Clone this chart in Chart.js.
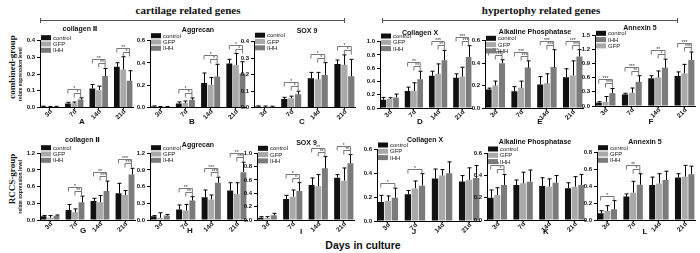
<!DOCTYPE html>
<html>
<head>
<meta charset="utf-8">
<script src="https://cdn.jsdelivr.net/npm/chart.js@4.4.0/dist/chart.umd.min.js"></script>
<style>
    body { margin: 0; background: #fff; }
    #wrap { position: relative; width: 700px; height: 253px; overflow: hidden; background: #fff; }
    .box { position: absolute; }
    .head { position: absolute; top: 4px; line-height: 12px; font-family: "Liberation Serif", serif; font-weight: bold; font-size: 11px; white-space: nowrap; transform: translateX(-50%); color: #111; }
    .rule { position: absolute; top: 20px; height: 0; border-top: 1px solid #555; }
    .rule:before, .rule:after { content: ''; position: absolute; top: -3px; height: 5px; border-left: 1px solid #555; }
    .rule:before { left: 0; }
    .rule:after { right: 0; }
    .group { position: absolute; left: 12px; font-family: "Liberation Serif", serif; font-weight: bold; font-size: 9px; white-space: nowrap; transform: translate(-50%, -50%) rotate(-90deg); color: #111; }
    #days { position: absolute; left: 363px; top: 245px; transform: translate(-50%, -50%); font-family: Arial, "Liberation Sans", sans-serif; font-weight: bold; font-size: 10.5px; white-space: nowrap; color: #111; }
</style>
</head>
<body>
<div id="wrap">
    <div class="head" style="left:188px">cartilage related genes</div>
    <div class="head" style="left:541px">hypertophy related genes</div>
    <div class="rule" style="left:40px; width:305px"></div>
    <div class="rule" style="left:382px; width:296px"></div>
    <div class="group" style="top:67px">combined-group</div>
    <div class="group" style="top:179px">RCCS-group</div>
    <div id="days">Days in culture</div>
</div>
<script>
    var days = ['3d', '7d', '14d', '21d'];
    var series = ['control', 'GFP', 'IHH'];
    var colors = ['#111111', '#a9a9a9', '#7b7b7b'];

    // combined-group  (rows: control, GFP, IHH)
    var aMean = [[0.006, 0.024, 0.114, 0.244], [0.004, 0.025, 0.104, 0.228], [0.005, 0.048, 0.188, 0.160]];
    var aSd = [[0.002, 0.007, 0.024, 0.024], [0.002, 0.008, 0.024, 0.076], [0.002, 0.010, 0.046, 0.060]];
    var aSig = [[1, 0, 2, '*'], [1, 1, 2, '*'], [2, 0, 2, '**'], [2, 1, 2, '**'], [3, 0, 2, '**'], [3, 1, 2, '*']];

    var bMean = [[0.010, 0.036, 0.220, 0.395], [0.005, 0.040, 0.205, 0.380], [0.005, 0.070, 0.278, 0.306]];
    var bSd = [[0.004, 0.014, 0.090, 0.038], [0.004, 0.018, 0.065, 0.105], [0.004, 0.016, 0.110, 0.105]];
    var bSig = [[1, 0, 2, '*'], [1, 1, 2, '*'], [2, 0, 2, '*'], [2, 1, 2, '*'], [3, 0, 2, '*'], [3, 1, 2, '*']];

    var cMean = [[0.008, 0.053, 0.178, 0.265], [0.006, 0.057, 0.172, 0.260], [0.006, 0.081, 0.198, 0.190]];
    var cSd = [[0.003, 0.010, 0.036, 0.024], [0.004, 0.013, 0.042, 0.060], [0.003, 0.019, 0.075, 0.103]];
    var cSig = [[1, 0, 2, '*'], [1, 1, 2, '*'], [2, 0, 2, '*'], [2, 1, 2, '*'], [3, 0, 2, '*'], [3, 1, 2, '*']];

    var dMean = [[0.125, 0.255, 0.485, 0.455], [0.135, 0.260, 0.515, 0.475], [0.160, 0.435, 0.720, 0.770]];
    var dSd = [[0.035, 0.060, 0.070, 0.060], [0.020, 0.120, 0.150, 0.140], [0.050, 0.120, 0.150, 0.170]];
    var dSig = [[1, 0, 2, '**'], [1, 1, 2, '**'], [2, 0, 2, '***'], [2, 1, 2, '**'], [3, 0, 2, '***'], [3, 1, 2, '***']];

    var eMean = [[0.165, 0.150, 0.210, 0.275], [0.200, 0.180, 0.220, 0.290], [0.400, 0.360, 0.365, 0.460]];
    var eSd = [[0.012, 0.040, 0.070, 0.075], [0.040, 0.060, 0.085, 0.130], [0.030, 0.060, 0.155, 0.060]];
    var eSig = [[0, 0, 2, '***'], [0, 1, 2, '***'], [1, 0, 2, '***'], [1, 1, 2, '***'], [2, 0, 2, '***'], [2, 1, 2, '***'], [3, 0, 2, '***'], [3, 1, 2, '***']];

    var fMean = [[0.070, 0.245, 0.585, 0.635], [0.090, 0.280, 0.605, 0.690], [0.270, 0.510, 0.810, 0.970]];
    var fSd = [[0.020, 0.025, 0.055, 0.085], [0.110, 0.100, 0.135, 0.190], [0.100, 0.130, 0.180, 0.170]];
    var fSig = [[0, 0, 2, '***'], [0, 1, 2, '***'], [1, 0, 2, '***'], [1, 1, 2, '**'], [2, 0, 2, '**'], [2, 1, 2, '*'], [3, 0, 2, '***'], [3, 1, 2, '***']];

    // RCCS-group
    var gMean = [[0.066, 0.180, 0.342, 0.480], [0.042, 0.138, 0.318, 0.450], [0.078, 0.318, 0.520, 0.820]];
    var gSd = [[0.014, 0.100, 0.048, 0.180], [0.038, 0.062, 0.122, 0.080], [0.012, 0.112, 0.180, 0.110]];
    var gSig = [[1, 0, 2, '*'], [1, 1, 2, '**'], [2, 0, 2, '**'], [2, 1, 2, '***'], [3, 0, 2, '***'], [3, 1, 2, '***']];

    var hMean = [[0.066, 0.190, 0.410, 0.530], [0.042, 0.170, 0.370, 0.470], [0.080, 0.350, 0.670, 0.860]];
    var hSd = [[0.014, 0.080, 0.130, 0.140], [0.088, 0.110, 0.080, 0.200], [0.020, 0.070, 0.100, 0.180]];
    var hSig = [[1, 0, 2, '**'], [1, 1, 2, '**'], [2, 0, 2, '***'], [2, 1, 2, '***'], [3, 0, 2, '**'], [3, 1, 2, '***']];

    var iMean = [[0.035, 0.315, 0.525, 0.635], [0.030, 0.350, 0.505, 0.590], [0.070, 0.435, 0.775, 0.850]];
    var iSd = [[0.015, 0.055, 0.105, 0.045], [0.020, 0.100, 0.175, 0.190], [0.030, 0.125, 0.175, 0.130]];
    var iSig = [[1, 0, 2, '*'], [1, 1, 2, '*'], [2, 0, 2, '**'], [2, 1, 2, '**'], [3, 0, 2, '*'], [3, 1, 2, '**']];

    var jMean = [[0.160, 0.223, 0.355, 0.330], [0.167, 0.273, 0.380, 0.345], [0.195, 0.296, 0.400, 0.360]];
    var jSd = [[0.055, 0.032, 0.080, 0.050], [0.043, 0.062, 0.050, 0.100], [0.080, 0.100, 0.095, 0.105]];
    var jSig = [[0, 0, 2, '*'], [1, 0, 2, '*']];

    var kMean = [[0.200, 0.315, 0.305, 0.285], [0.225, 0.330, 0.300, 0.300], [0.315, 0.345, 0.335, 0.315]];
    var kSd = [[0.070, 0.045, 0.075, 0.050], [0.065, 0.100, 0.070, 0.090], [0.095, 0.105, 0.065, 0.095]];
    var kSig = [[0, 1, 2, '*'], [0, 0, 2, '**']];

    var lMean = [[0.080, 0.278, 0.415, 0.505], [0.107, 0.325, 0.435, 0.515], [0.127, 0.420, 0.475, 0.545]];
    var lSd = [[0.030, 0.032, 0.095, 0.045], [0.063, 0.135, 0.115, 0.135], [0.103, 0.130, 0.105, 0.095]];
    var lSig = [[0, 0, 2, '*'], [1, 0, 2, '**'], [1, 1, 2, '*']];

    // layout of each panel on the page (pixels): axis x, right end, title centre, top/zero of the y axis, letter, legend lift
    var panels = [
        { letter: 'A', title: 'collagen Ⅱ', mean: aMean, sd: aSd, sig: aSig, max: 0.4, step: 0.1, x0: 40, x1: 133, tx: 80, ty: 29.5, top: 40.7, zero: 107.5, lx: 82, ly: 121.5, lg: 3, yTitle: true },
        { letter: 'B', title: 'Aggrecan', mean: bMean, sd: bSd, sig: bSig, max: 0.6, step: 0.2, x0: 150, x1: 246, tx: 198, ty: 30, top: 40.7, zero: 107.5, lx: 192, ly: 121.5, lg: 5 },
        { letter: 'C', title: 'SOX 9', mean: cMean, sd: cSd, sig: cSig, max: 0.4, step: 0.1, x0: 254, x1: 355, tx: 307, ty: 31, top: 41.7, zero: 107.7, lx: 302, ly: 121.5, lg: 6.5 },
        { letter: 'D', title: 'Collagen X', mean: dMean, sd: dSd, sig: dSig, max: 1.0, step: 0.2, x0: 380, x1: 472, tx: 420, ty: 33, top: 41.7, zero: 108, lx: 420, ly: 121.5, lg: 5.7 },
        { letter: 'E', title: 'Alkaline Phosphatase', mean: eMean, sd: eSd, sig: eSig, max: 0.6, step: 0.2, x0: 485, x1: 583, tx: 535, ty: 31.7, top: 40.7, zero: 108, lx: 540, ly: 121.5, lg: 2.4 },
        { letter: 'F', title: 'Annexin 5', mean: fMean, sd: fSd, sig: fSig, max: 1.5, step: 0.3, x0: 595, x1: 695, tx: 640, ty: 28.3, top: 35, zero: 106, lx: 651, ly: 121.5, lg: 1.7, order: ['control', 'IHH', 'GFP'] },
        { letter: 'G', title: 'collagen Ⅱ', mean: gMean, sd: gSd, sig: gSig, max: 1.2, step: 0.3, x0: 40, x1: 135, tx: 82.5, ty: 140, top: 153.3, zero: 220, lx: 83, ly: 231, lg: 5.6, yTitle: true },
        { letter: 'H', title: 'Aggrecan', mean: hMean, sd: hSd, sig: hSig, max: 1.2, step: 0.3, x0: 150, x1: 247, tx: 198, ty: 145, top: 153.3, zero: 220, lx: 190, ly: 231, lg: 5.6 },
        { letter: 'I', title: 'SOX 9', mean: iMean, sd: iSd, sig: iSig, max: 1.0, step: 0.2, x0: 257, x1: 354, tx: 306.5, ty: 143.3, top: 153.3, zero: 220, lx: 301, ly: 232, lg: 5 },
        { letter: 'J', title: 'Collagen X', mean: jMean, sd: jSd, sig: jSig, max: 0.6, step: 0.2, x0: 377, x1: 480, tx: 425, ty: 140, top: 149.3, zero: 221, lx: 414, ly: 232, lg: 4.3 },
        { letter: 'K', title: 'Alkaline Phosphatase', mean: kMean, sd: kSd, sig: kSig, max: 0.6, step: 0.2, x0: 487, x1: 585, tx: 535, ty: 141.7, top: 153.3, zero: 220, lx: 546, ly: 232, lg: 4.3 },
        { letter: 'L', title: 'Annexin 5', mean: lMean, sd: lSd, sig: lSig, max: 0.8, step: 0.2, x0: 597, x1: 695, tx: 645, ty: 141.7, top: 152.7, zero: 220, lx: 645, ly: 232, lg: 5 }
    ];

    Chart.defaults.font.family = 'Arial, "Liberation Sans", "DejaVu Sans", "Noto Sans CJK SC", sans-serif';
    Chart.defaults.color = '#111';

    // error bars (mean + sd, upper only)
    var errorBars = {
        id: 'errorBars',
        afterDatasetsDraw: function (chart) {
            var ctx = chart.ctx;
            var ys = chart.scales.y;
            ctx.save();
            ctx.strokeStyle = '#000';
            ctx.lineWidth = 1;
            chart.data.datasets.forEach(function (ds, i) {
                chart.getDatasetMeta(i).data.forEach(function (bar, j) {
                    var top = ys.getPixelForValue(ds.data[j].y + ds.sd[j]);
                    var x = Math.round(bar.x) + 0.5;
                    ctx.beginPath();
                    ctx.moveTo(x, bar.y);
                    ctx.lineTo(x, top);
                    ctx.moveTo(x - 2, top);
                    ctx.lineTo(x + 2, top);
                    ctx.stroke();
                });
            });
            ctx.restore();
        }
    };

    // day labels turned 45 degrees under the axis, plus the panel letter
    function makeAxisText(p, left, top) {
        return {
            id: 'axisText',
            afterLayout: function (chart) {
                var tb = chart.titleBlock;
                var dx = p.tx - left - (tb.left + tb.right) / 2;
                tb.left += dx;
                tb.right += dx;
            },
            afterDraw: function (chart) {
                var ctx = chart.ctx;
                var xs = chart.scales.x;
                ctx.save();
                ctx.font = 'bold 6.5px Arial, "Liberation Sans", sans-serif';
                ctx.fillStyle = '#111';
                ctx.textAlign = 'right';
                ctx.textBaseline = 'middle';
                days.forEach(function (d, i) {
                    ctx.save();
                    ctx.translate(xs.getPixelForValue(i) + 1.5, xs.top + 3);
                    ctx.rotate(-Math.PI / 4);
                    ctx.fillText(d, 0, 0);
                    ctx.restore();
                });
                ctx.font = 'bold 8px Arial, "Liberation Sans", sans-serif';
                ctx.textAlign = 'center';
                ctx.fillText(p.letter, p.lx - left, p.ly - top);
                ctx.restore();
            }
        };
    }

    function makeBrackets(sig) {
        return {
            id: 'brackets',
            afterDatasetsDraw: function (chart) {
                var ctx = chart.ctx;
                var ys = chart.scales.y;
                var ds = chart.data.datasets;
                var level = {};
                var list = sig.slice().sort(function (s, t) { return (s[2] - s[1]) - (t[2] - t[1]); });
                ctx.save();
                ctx.strokeStyle = '#555';
                ctx.lineWidth = 0.8;
                ctx.fillStyle = '#333';
                ctx.font = '5px Arial';
                ctx.textAlign = 'center';
                ctx.textBaseline = 'bottom';
                list.forEach(function (s) {
                    var cat = s[0];
                    var top = Infinity;
                    for (var k = s[1]; k <= s[2]; k++) {
                        top = Math.min(top, ys.getPixelForValue(ds[k].data[cat].y + ds[k].sd[cat]));
                    }
                    if (level[cat] !== undefined) top = Math.min(top, level[cat]);
                    var y = Math.round(top - 5) + 0.5;
                    level[cat] = y;
                    var xa = chart.getDatasetMeta(s[1]).data[cat].x;
                    var xb = chart.getDatasetMeta(s[2]).data[cat].x;
                    ctx.beginPath();
                    ctx.moveTo(xa, y + 4);
                    ctx.lineTo(xa, y);
                    ctx.lineTo(xb, y);
                    ctx.lineTo(xb, y + 4);
                    ctx.stroke();
                    ctx.fillText(s[3], (xa + xb) / 2, y + 1.5);
                });
                ctx.restore();
            }
        };
    }

    // small legend in the top-left corner of the plot, like the Prism figure
    function makeLegend(order, up) {
        return {
            id: 'cornerLegend',
            afterDraw: function (chart) {
                var ctx = chart.ctx;
                var a = chart.chartArea;
                ctx.save();
                ctx.font = '6px Arial, "Liberation Sans", sans-serif';
                ctx.textBaseline = 'middle';
                ctx.textAlign = 'left';
                order.forEach(function (name, k) {
                    var i = series.indexOf(name);
                    var cy = a.top - up + k * 6.3;
                    ctx.fillStyle = chart.data.datasets[i].backgroundColor;
                    ctx.fillRect(a.left + 1, cy - 2.5, 10, 5);
                    ctx.fillStyle = '#222';
                    ctx.fillText(chart.data.datasets[i].label, a.left + 13, cy + 0.5);
                });
                ctx.restore();
            }
        };
    }

    var wrap = document.getElementById('wrap');

    panels.forEach(function (p) {
        var yw = p.yTitle ? p.x0 : 16;
        var left = p.x0 - yw;
        var w = Math.round(p.x1 - p.x0 + yw + 3);
        var T = Math.round(p.ty - 4.2);
        var titlePad = p.top - T - 8.4;
        var H = Math.round(p.ly + 5 - T);
        var xh = T + H - p.zero;

        var div = document.createElement('div');
        div.className = 'box';
        div.style.left = left + 'px';
        div.style.top = T + 'px';
        var cv = document.createElement('canvas');
        cv.width = w;
        cv.height = H;
        cv.style.width = w + 'px';
        cv.style.height = H + 'px';
        div.appendChild(cv);
        wrap.appendChild(div);

        var datasets = series.map(function (s, i) {
            return {
                label: s,
                data: p.mean[i].map(function (v, j) { return { x: j, y: v }; }),
                sd: p.sd[i],
                backgroundColor: colors[i],
                borderWidth: 0,
                categoryPercentage: 0.78,
                barPercentage: 0.9
            };
        });

        new Chart(cv.getContext('2d'), {
            type: 'bar',
            data: { datasets: datasets },
            options: {
                responsive: false,
                animation: false,
                events: [],
                layout: { padding: { left: 0, right: 3, top: 0, bottom: 0 } },
                plugins: {
                    title: {
                        display: true, text: p.title, fullSize: false, color: '#111',
                        font: { size: 7, weight: 'bold' },
                        padding: { top: 0, bottom: titlePad }
                    },
                    legend: { display: false },
                    tooltip: { enabled: false }
                },
                scales: {
                    x: {
                        type: 'linear', min: -0.4, max: 3.4, offset: false,
                        afterBuildTicks: function (s) { s.ticks = days.map(function (d, i) { return { value: i }; }); },
                        afterFit: function (s) { s.height = xh; },
                        ticks: { display: false },
                        grid: { drawOnChartArea: false, drawTicks: true, tickLength: 2, color: '#000', offset: false },
                        border: { display: true, color: '#000', width: 1 }
                    },
                    y: {
                        min: 0, max: p.max,
                        afterFit: function (s) { s.width = yw; },
                        ticks: {
                            stepSize: p.step, padding: 2, color: '#111',
                            font: { size: 6, weight: 'bold' },
                            callback: function (v) { return Number(v).toFixed(1); }
                        },
                        grid: { drawOnChartArea: false, drawTicks: true, tickLength: 3, color: '#000' },
                        border: { display: true, color: '#000', width: 1 },
                        title: {
                            display: !!p.yTitle, text: 'relate expression level', color: '#111',
                            font: { size: 5, weight: 'bold' }, padding: { top: 18, bottom: 0 }
                        }
                    }
                }
            },
            plugins: [errorBars, makeAxisText(p, left, T), makeBrackets(p.sig), makeLegend(p.order || series, p.lg)]
        });
    });
</script>
</body>
</html>
